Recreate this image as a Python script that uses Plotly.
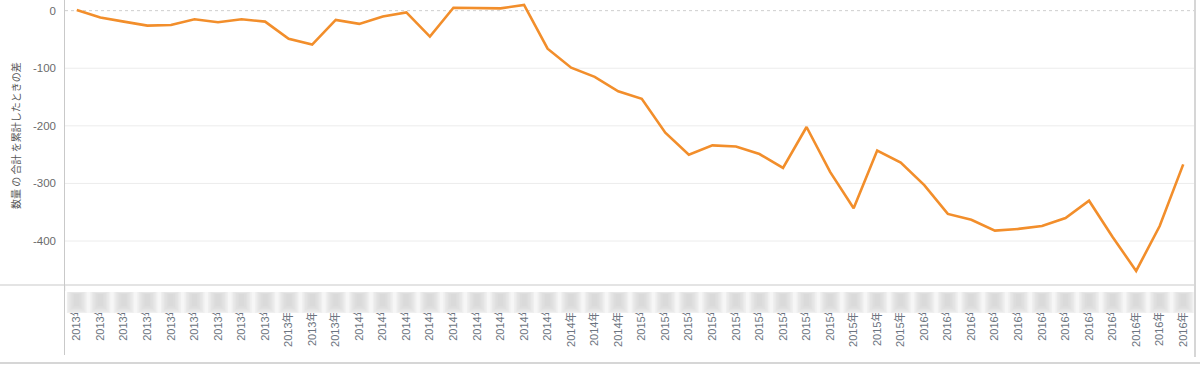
import plotly.graph_objects as go

years = ["2013", "2014", "2015", "2016"]
months = ["1月", "2月", "3月", "4月", "5月", "6月", "7月", "8月", "9月", "10月", "11月", "12月"]
categories = [f"{y}年{m}" for y in years for m in months]

values = [1, -12, -19, -26, -25, -15, -20, -15, -19, -49, -59, -16,
          -23, -10, -3, -45, 5, 4, 4, 10, -66, -99, -115, -140,
          -153, -212, -250, -234, -236, -249, -273, -202, -280, -343, -243, -264,
          -303, -353, -363, -382, -379, -374, -360, -330, -393, -452, -374, -267]

y_ticks = [0, -100, -200, -300, -400]
y_tick_labels = ["0", "-100", "-200", "-300", "-400"]
y_title = "数量 の 合計 を累計したときの差"

# layout geometry (pixels)
FIG_W, FIG_H = 1200, 366
L, R, T, B = 65, 5, 0, 81
PW, PH = FIG_W - L - R, FIG_H - T - B


def px_x(px):
    return (px - L) / PW


def px_y(py):
    return (T + PH - py) / PH


fig = go.Figure()
fig.add_trace(go.Scatter(
    x=categories, y=values, mode="lines",
    line=dict(color="#F28E2B", width=2.6),
    hoverinfo="skip", showlegend=False,
))

shapes = []
# gridlines
for v in y_ticks:
    shapes.append(dict(type="line", xref="paper", yref="y", x0=0, x1=1, y0=v, y1=v,
                       line=dict(color="#cfcfcf" if v == 0 else "#ececec", width=1,
                                 dash="dot" if v == 0 else "solid"), layer="below"))
# frame lines
frame = "#c9c9c9"
shapes += [
    dict(type="line", xref="paper", yref="paper", x0=px_x(64.5), x1=px_x(64.5), y0=px_y(0), y1=px_y(355),
         line=dict(color=frame, width=1), layer="above"),
    dict(type="line", xref="paper", yref="paper", x0=px_x(0), x1=px_x(1195), y0=px_y(285), y1=px_y(285),
         line=dict(color=frame, width=1), layer="above"),
    dict(type="line", xref="paper", yref="paper", x0=px_x(1195), x1=px_x(1195), y0=px_y(0), y1=px_y(357),
         line=dict(color="#d6d6d6", width=2), layer="above"),
    dict(type="line", xref="paper", yref="paper", x0=px_x(0), x1=px_x(1200), y0=px_y(363), y1=px_y(363),
         line=dict(color=frame, width=1.5), layer="above"),
]
# blurred header band covering the top of the tick labels
shapes.append(dict(type="rect", xref="paper", yref="paper", x0=px_x(65.5), x1=px_x(1194), y0=px_y(286), y1=px_y(292),
                   fillcolor="white", line=dict(width=0), layer="above"))
shapes.append(dict(type="rect", xref="paper", yref="paper", x0=px_x(67), x1=px_x(1194), y0=px_y(292), y1=px_y(313),
                   fillcolor="#f6f6f6", line=dict(width=0), layer="above"))
n = len(categories)
for i in range(n):
    cx = (i + 0.5) / n
    for hw, y0, y1 in [(10, 292, 313), (8.5, 292, 312), (7, 292.5, 310.5), (5.5, 293, 309),
                       (4, 293.5, 307.5), (2.5, 294, 306)]:
        shapes.append(dict(type="rect", xref="paper", yref="paper",
                           x0=cx - hw / PW, x1=cx + hw / PW, y0=px_y(y0), y1=px_y(y1),
                           fillcolor="#cfcfcf", opacity=0.16, line=dict(width=0), layer="above"))

fig.update_layout(
    width=FIG_W, height=FIG_H, autosize=False,
    margin=dict(l=L, r=R, t=T, b=B, pad=0),
    paper_bgcolor="white", plot_bgcolor="white",
    font=dict(family="Liberation Sans, Noto Sans CJK JP, sans-serif", color="#6b6b6b"),
    shapes=shapes,
    xaxis=dict(
        type="category", range=[-0.5, n - 0.5], showgrid=False, zeroline=False, showline=False,
        tickangle=-90, ticks="outside", tickson="boundaries", ticklen=5, tickcolor="#ececec",
        tickfont=dict(size=11, color="#6b7480"), fixedrange=True,
    ),
    yaxis=dict(
        range=[-476.4, 18.5], tickvals=y_ticks, ticktext=y_tick_labels,
        showgrid=False, zeroline=False, showline=False, ticks="",
        ticklabelstandoff=8, tickfont=dict(size=11.5, color="#6b6b6b"), fixedrange=True,
    ),
    annotations=[dict(
        text=y_title, xref="paper", yref="paper", x=px_x(15), y=px_y(136),
        xanchor="center", yanchor="middle", textangle=-90, showarrow=False,
        font=dict(size=10, color="#555555", family="Noto Sans CJK JP, sans-serif"),
    )],
)

fig.write_html("out.html")
